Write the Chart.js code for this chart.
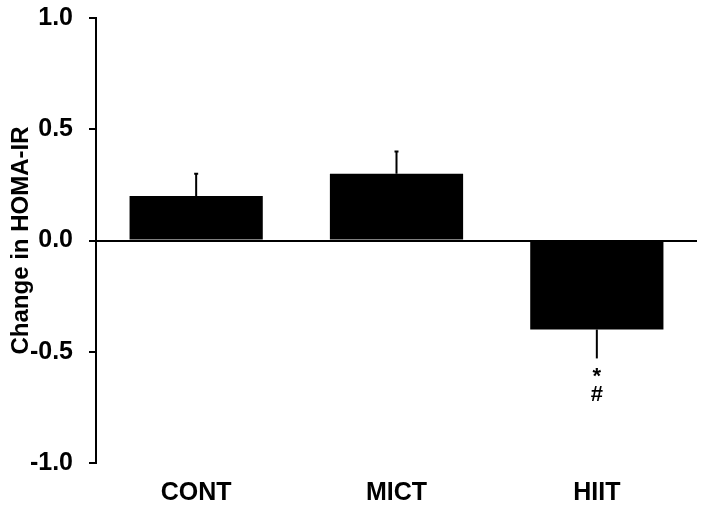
<!DOCTYPE html>
<html>
<head>
<meta charset="utf-8">
<script src="https://cdn.jsdelivr.net/npm/chart.js@4"></script>
<style>
  html, body { margin: 0; padding: 0; background: #fff; }
  #wrap { width: 704px; height: 510px; }
</style>
</head>
<body>
<div id="wrap"><canvas id="homaChart"></canvas></div>
<script>
// data
const groups = ['CONT', 'MICT', 'HIIT'];
const changeValues = [0.2, 0.3, -0.4];
const errorValues = [0.1, 0.1, 0.13];
const markers = ['', '', '*\n#'];
const yTicks = [-1.0, -0.5, 0.0, 0.5, 1.0];

const ink = '#000000';
const fontFam = "'Liberation Sans', Arial, sans-serif";

// error bars + significance marks, positioned through the scales
const errorBarPlugin = {
    id: 'errorBars',
    afterDatasetsDraw(chart) {
        const ctx = chart.ctx;
        const x = chart.scales.x;
        const y = chart.scales.y;
        ctx.save();
        ctx.strokeStyle = ink;
        ctx.lineWidth = 2;
        changeValues.forEach((v, i) => {
            const cx = x.getPixelForValue(i);
            const dir = v >= 0 ? 1 : -1;
            const y0 = y.getPixelForValue(v);
            const y1 = y.getPixelForValue(v + dir * errorValues[i]);
            ctx.beginPath();
            ctx.moveTo(cx, y0);
            ctx.lineTo(cx, y1);
            if (dir > 0) {
                ctx.moveTo(cx - 2, y1);
                ctx.lineTo(cx + 2, y1);
            }
            ctx.stroke();

            if (markers[i]) {
                ctx.fillStyle = ink;
                ctx.font = 'bold 22px ' + fontFam;
                ctx.textAlign = 'center';
                ctx.textBaseline = 'middle';
                const offs = [19, 37];
                markers[i].split('\n').forEach((m, k) => {
                    ctx.fillText(m, cx, y1 + offs[k]);
                });
            }
        });
        ctx.restore();
    }
};

new Chart(document.getElementById('homaChart'), {
    type: 'bar',
    data: {
        labels: groups,
        datasets: [{
            data: changeValues,
            backgroundColor: ink,
            borderWidth: 0,
            barPercentage: 0.665,
            categoryPercentage: 1.0
        }]
    },
    plugins: [errorBarPlugin],
    options: {
        responsive: true,
        maintainAspectRatio: false,
        animation: false,
        layout: { padding: { top: 0, right: 7, bottom: 2, left: 3 } },
        plugins: {
            legend: { display: false },
            tooltip: { enabled: false }
        },
        scales: {
            x: {
                grid: { display: false, drawTicks: false },
                border: { display: false },
                afterFit: (s) => { s.height = 45; },
                ticks: {
                    color: ink,
                    padding: 15,
                    font: { family: fontFam, size: 25, weight: 'bold' }
                }
            },
            y: {
                min: -1,
                max: 1,
                afterBuildTicks: (axis) => {
                    axis.ticks = yTicks.map(v => ({ value: v }));
                },
                afterFit: (s) => { s.width = 93; s.paddingTop = 18; },
                grid: {
                    color: (c) => (c.tick && c.tick.value === 0) ? ink : 'transparent',
                    lineWidth: 2,
                    tickColor: ink,
                    tickLength: 7,
                    drawOnChartArea: true
                },
                border: { display: true, color: ink, width: 2 },
                ticks: {
                    color: ink,
                    padding: 16,
                    callback: (v) => Number(v).toFixed(1),
                    font: { family: fontFam, size: 25, weight: 'bold' }
                },
                title: {
                    display: true,
                    text: 'Change in HOMA-IR',
                    color: ink,
                    padding: { top: 4, bottom: 0 },
                    font: { family: fontFam, size: 24, weight: 'bold' }
                }
            }
        }
    }
});
</script>
</body>
</html>
